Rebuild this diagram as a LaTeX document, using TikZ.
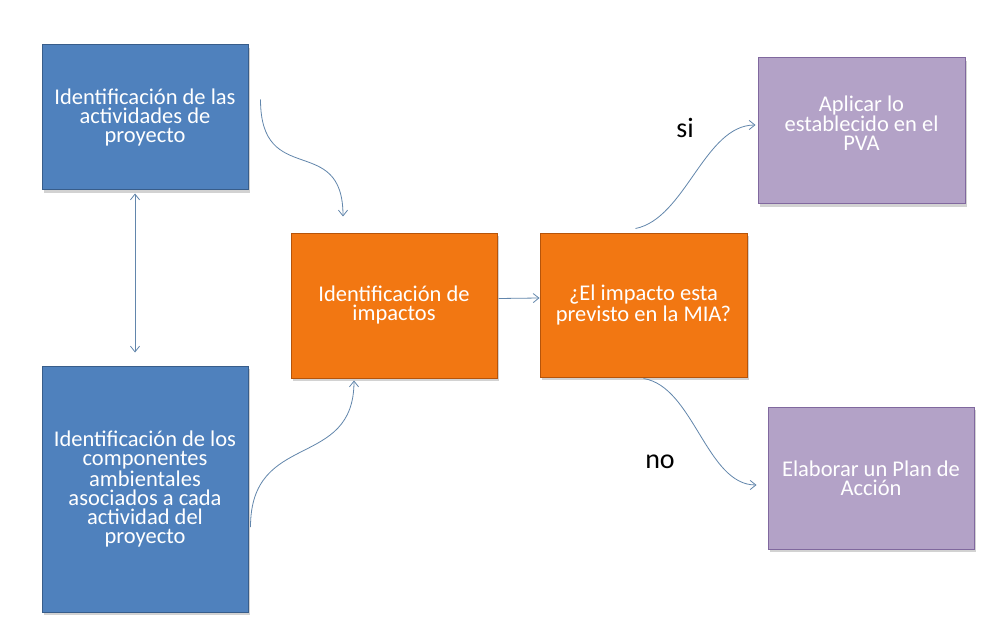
\documentclass[tikz,border=0pt]{standalone}
\usepackage{fontspec}
\setmainfont{Carlito}
\usepackage{xcolor}
\usepackage{tikz}
\usetikzlibrary{arrows.meta,shadows}
\definecolor{boxblue}{RGB}{79, 129, 189}
\definecolor{edgeblue}{RGB}{56, 93, 138}
\definecolor{boxorange}{RGB}{242, 119, 18}
\definecolor{edgeorange}{RGB}{182, 84, 10}
\definecolor{boxlilac}{RGB}{179, 162, 199}
\definecolor{edgelilac}{RGB}{128, 104, 158}
\definecolor{linkblue}{RGB}{98, 134, 172}
\newcommand{\boxfont}{\fontsize{22.5}{19}\selectfont}
\tikzset{
  fbox/.style={draw,line width=1pt,align=center,text=white,
               font=\boxfont,inner sep=2pt,
               drop shadow={shadow xshift=2pt,shadow yshift=-3pt,opacity=0.35}},
  arr/.style={-{Straight Barb[length=2mm,width=3.2mm]},line width=0.8pt,draw=linkblue},
  dbl/.style={{Straight Barb[length=2mm,width=3.2mm]}-{Straight Barb[length=2mm,width=3.2mm]},
              line width=0.8pt,draw=linkblue},
  answer/.style={font=\fontsize{28}{30}\selectfont,text=black},
}

\begin{document}
\begin{tikzpicture}[x=1pt,y=-1pt]
        \useasboundingbox[fill=white] (0,0) rectangle (981,628);
        % left column
        \node[fbox,fill=boxblue,draw=edgeblue,minimum width=206pt,minimum height=145pt]
              (act) at (145,117.5) {Identificación de las\\actividades de\\proyecto};
        \node[fbox,fill=boxblue,draw=edgeblue,minimum width=206pt,minimum height=246pt]
              (comp) at (145,489) {Identificación de los\\componentes\\ambientales\\asociados a cada\\actividad del\\proyecto};
        % centre
        \node[fbox,fill=boxorange,draw=edgeorange,minimum width=206pt,minimum height=145pt]
              (imp) at (394,305.5) {Identificación de\\impactos};
        \node[fbox,fill=boxorange,draw=edgeorange,minimum width=207pt,minimum height=144pt]
              (mia) at (643.5,305) {¿El impacto esta\\previsto en la MIA?};
        % right column
        \node[fbox,fill=boxlilac,draw=edgelilac,minimum width=207pt,minimum height=146pt,text depth=16pt]
              (pva) at (861.5,131) {Aplicar lo\\establecido en el\\PVA};
        \node[fbox,fill=boxlilac,draw=edgelilac,minimum width=206pt,minimum height=142pt]
              (plan) at (871,478) {Elaborar un Plan de\\Acción};
        \node[answer] (si) at (685,128) {si};
        \node[answer] (no) at (660,462) {no};
        % connectors
        \draw[dbl,shorten <=3pt,shorten >=13pt]([xshift=-10pt]act.south)--([xshift=-10pt]comp.north);
        \draw[arr]([shift={(12,-18)}]act.east) .. controls +(0,90) and +(0,-85) .. ([shift={(-51,-16)}]imp.north);
        \draw[arr]([shift={(2,38)}]comp.east) .. controls +(0,-97) and +(0,90) .. ([shift={(-40,2)}]imp.south);
        \draw[arr]([shift={(1,-7)}]imp.east)--([shift={(0,-7)}]mia.west);
        \draw[arr]([shift={(-8,-4)}]mia.north) .. controls +(50,-10) and +(-51,0) .. ([shift={(-2,-6)}]pva.west);
        \draw[arr]([shift={(0,1)}]mia.south) .. controls +(50,8) and +(-50,0) .. ([shift={(-11,7)}]plan.west);
      \end{tikzpicture}
\end{document}
